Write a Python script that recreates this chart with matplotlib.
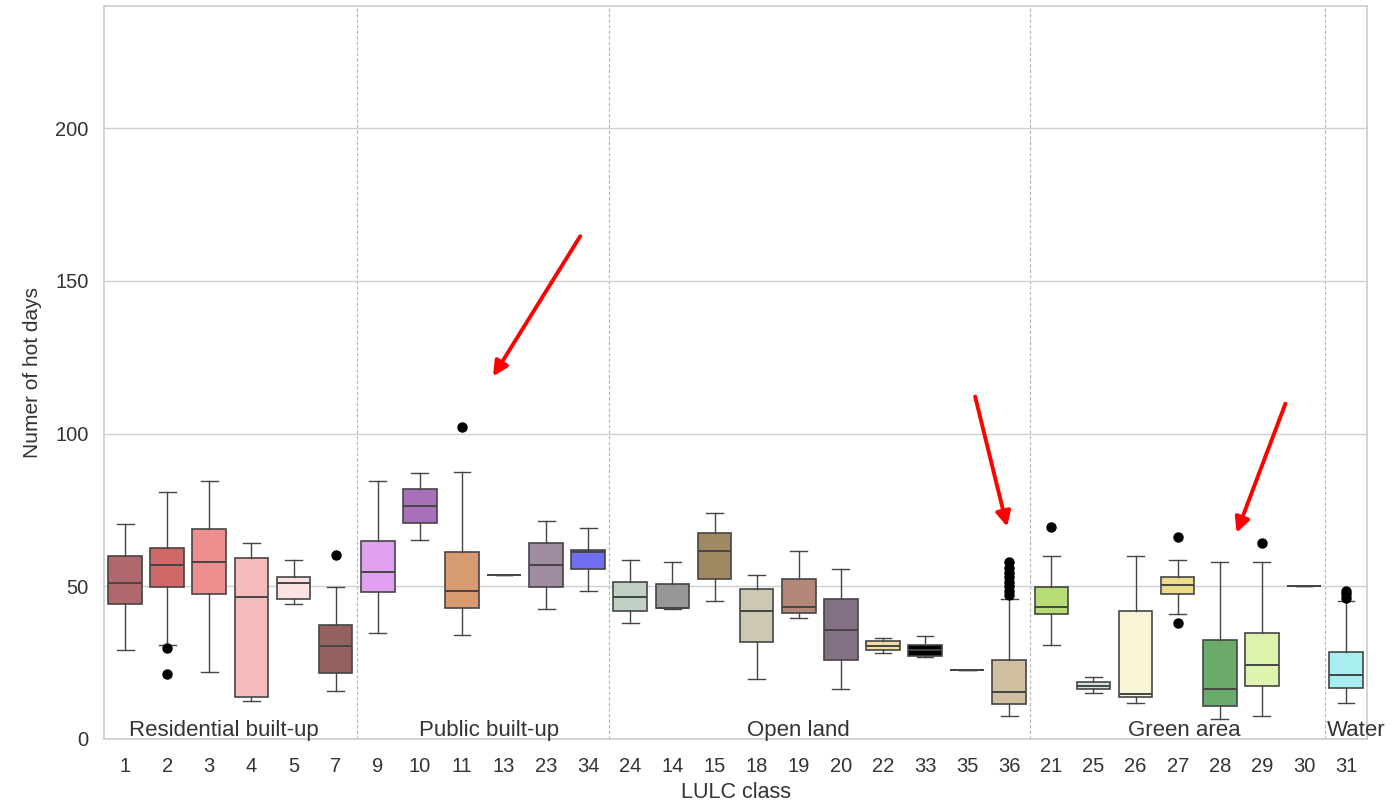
import matplotlib
matplotlib.use("Agg")
import matplotlib.pyplot as plt

plt.rcParams['font.family'] = ['Liberation Sans', 'DejaVu Sans']

# LULC classes in plotting order
classes = ['1', '2', '3', '4', '5', '7',
           '9', '10', '11', '13', '23', '34',
           '24', '14', '15', '18', '19', '20', '22', '33', '35', '36',
           '21', '25', '26', '27', '28', '29', '30',
           '31']

# box statistics
whislo = [29.2, 30.8, 21.9, 12.5, 44.3, 15.8,
          34.6, 65.2, 34.1, 53.8, 42.4, 48.5,
          38.0, 42.5, 45.2, 19.7, 39.6, 16.3, 28.0, 26.9, 22.5, 7.5,
          30.7, 15.1, 11.9, 40.8, 6.4, 7.5, 50.0,
          11.9]
q1 = [44.1, 49.6, 47.5, 13.7, 45.8, 21.7,
      48.0, 70.8, 43.0, 53.8, 49.6, 55.7,
      41.8, 42.8, 52.4, 31.9, 41.2, 25.7, 29.2, 27.3, 22.5, 11.3,
      40.8, 16.3, 13.6, 47.3, 10.8, 17.4, 50.0,
      16.8]
med = [50.9, 57.0, 58.0, 46.4, 50.9, 30.3,
       54.8, 76.4, 48.6, 53.8, 57.0, 61.3,
       46.4, 43.0, 61.4, 42.0, 43.2, 35.8, 30.6, 29.0, 22.5, 15.3,
       43.2, 17.4, 14.8, 50.3, 16.4, 24.1, 50.0,
       20.8]
q3 = [59.8, 62.5, 68.6, 59.1, 53.1, 37.3,
      64.7, 82.0, 61.3, 53.8, 64.2, 61.8,
      51.3, 50.8, 67.4, 49.2, 52.4, 45.8, 32.0, 30.8, 22.5, 25.9,
      49.7, 18.5, 42.0, 53.0, 32.5, 34.6, 50.0,
      28.5]
whishi = [70.4, 80.9, 84.3, 64.2, 58.6, 49.6,
          84.3, 87.1, 87.5, 53.8, 71.4, 69.2,
          58.6, 58.0, 74.1, 53.7, 61.4, 55.7, 33.0, 33.6, 22.5, 45.9,
          59.8, 20.2, 59.8, 58.6, 58.0, 58.0, 50.0,
          45.2]
fliers = [[], [29.7, 21.3], [], [], [], [60.3],
          [], [], [102.0], [], [], [],
          [], [], [], [], [], [], [], [], [], [47.0, 48.5, 50.0, 51.5, 53.0, 54.5, 56.0, 58.1],
          [69.3], [], [], [66.0, 37.9], [], [64.2], [],
          [48.6, 47.5, 46.1]]

box_colors = ['#b0686c', '#d06868', '#ee8e8e', '#f5bcbb', '#fbe3e3', '#956262',
              '#e2a0f0', '#a870b8', '#d89a70', '#f0d9a8', '#a08ca0', '#6e6eee',
              '#bfd1c5', '#979797', '#a08a63', '#cdc8b1', '#b48878', '#857186', '#f0dca2', '#000000', '#cccccc', '#d0bfa0',
              '#b6dc76', '#d4e5e0', '#f7f5d6', '#ecdc8a', '#6aaa6b', '#def4ae', '#cccccc',
              '#a8eef0']

groups = ['Residential built-up', 'Public built-up', 'Open land', 'Green area', 'Water']
group_sizes = [6, 6, 10, 7, 1]
group_label_pos = [2.35, 8.65, 16.0, 25.15, 29.25]

stats = []
for i, c in enumerate(classes):
    stats.append(dict(label=c, whislo=whislo[i], q1=q1[i], med=med[i],
                      q3=q3[i], whishi=whishi[i], fliers=fliers[i]))

fig = plt.figure(figsize=(13.95, 8.02), dpi=100)
ax = fig.add_axes([0.0746, 0.0786, 0.9054, 0.914])

edge = '#454545'
bp = ax.bxp(stats, positions=range(len(classes)), widths=0.8, patch_artist=True,
            boxprops=dict(edgecolor=edge, linewidth=1.2),
            medianprops=dict(color=edge, linewidth=1.4),
            whiskerprops=dict(color=edge, linewidth=1.0),
            capprops=dict(color=edge, linewidth=1.0),
            flierprops=dict(marker='o', markerfacecolor='black', markeredgecolor='black',
                            markersize=6.5))
for patch, col in zip(bp['boxes'], box_colors):
    patch.set_facecolor(col)

# group separators and labels
edges_pos = []
acc = 0
for s in group_sizes[:-1]:
    acc += s
    edges_pos.append(acc - 0.5)
for xv in edges_pos:
    ax.axvline(xv, color='#b5b5b5', linestyle=(0, (3, 2)), linewidth=0.8, zorder=0)
for name, xp in zip(groups, group_label_pos):
    ax.text(xp, -0.6, name, ha='center', va='bottom', fontsize=16, color='#333333')

# red arrows
arrows = [((10.81, 164.6), (8.74, 118.7)),
          ((20.19, 112.1), (20.95, 69.5)),
          ((27.56, 109.8), (26.40, 67.5))]
for tail, head in arrows:
    ax.annotate('', xy=head, xytext=tail,
                arrowprops=dict(arrowstyle='-|>', color='red', lw=2.8,
                                mutation_scale=22, shrinkA=0, shrinkB=0))

ax.set_xlim(-0.5, len(classes) - 0.5)
ax.set_ylim(0, 240)
ax.set_yticks([0, 50, 100, 150, 200])
ax.yaxis.grid(True, color='#d0d0d0', linewidth=1.0)
ax.xaxis.grid(False)
ax.set_axisbelow(True)
for sp in ax.spines.values():
    sp.set_color('#cccccc')
    sp.set_linewidth(1.2)
ax.tick_params(axis='both', length=0, labelsize=14.5, labelcolor='#333333', pad=11)
ax.tick_params(axis='x', pad=13)
ax.set_xticklabels(classes)
ax.set_xlabel('LULC class', fontsize=15.5, color='#333333', labelpad=4)
ax.set_ylabel('Numer of hot days', fontsize=15, color='#333333', labelpad=10)

fig.savefig('out.png', dpi=100)
